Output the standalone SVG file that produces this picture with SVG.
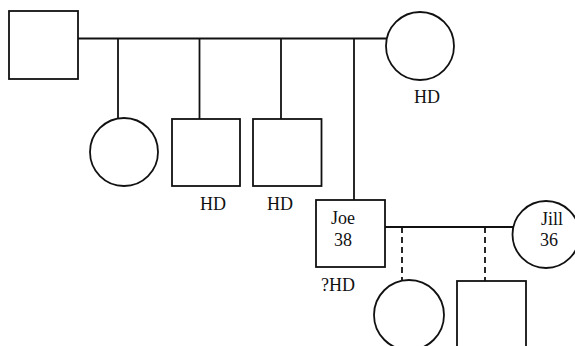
<svg xmlns="http://www.w3.org/2000/svg" width="575" height="346" viewBox="0 0 575 346">
<style>
.s{fill:none;stroke:#111;stroke-width:1.8}
.d{fill:none;stroke:#111;stroke-width:1.8;stroke-dasharray:6,4}
text{font-family:"Liberation Serif","Times New Roman",serif;font-size:18px;fill:#111;text-anchor:middle}
</style>
<rect width="575" height="346" fill="#fff"/>
<g id="connectors">
<path class="s" d="M78 38.5H387"/>
<path class="s" d="M118 38.5V118"/>
<path class="s" d="M199.5 38.5V119"/>
<path class="s" d="M281 38.5V119"/>
<path class="s" d="M354 38.5V200"/>
<path class="s" d="M385 227H513.5"/>
<path class="d" d="M402 227V280"/>
<path class="d" d="M485 227V281"/>
</g>
<g id="father"><rect class="s" x="9" y="11" width="69" height="68"/></g>
<g id="mother"><circle class="s" cx="420" cy="46" r="34"/><text x="427" y="103">HD</text></g>
<g id="daughter1"><circle class="s" cx="124" cy="152" r="34"/></g>
<g id="son1"><rect class="s" x="172" y="119" width="68" height="67"/><text x="213" y="210">HD</text></g>
<g id="son2"><rect class="s" x="253" y="119" width="68.5" height="67"/><text x="280" y="210">HD</text></g>
<g id="joe"><rect class="s" x="316" y="200" width="69" height="67"/><text x="343" y="224">Joe</text><text x="343" y="246">38</text><text x="338" y="291">?HD</text></g>
<g id="jill"><circle class="s" cx="546" cy="234.5" r="33.5"/><text x="552" y="225">Jill</text><text x="549" y="246">36</text></g>
<g id="grandchild1"><circle class="s" cx="409" cy="315" r="35"/></g>
<g id="grandchild2"><rect class="s" x="457" y="281" width="69" height="80"/></g>
</svg>
